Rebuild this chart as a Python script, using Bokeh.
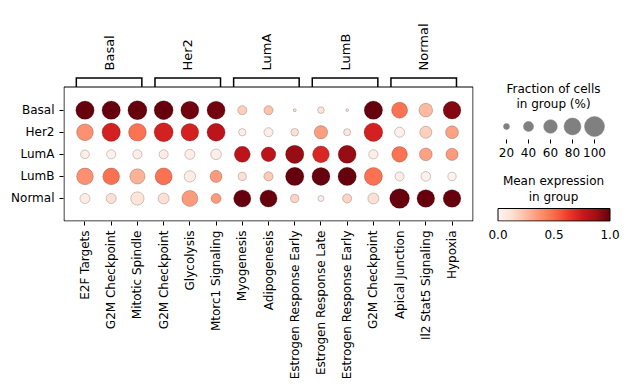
import math
import numpy as np
from bokeh.plotting import figure
from bokeh.layouts import row
from bokeh.models import FixedTicker, LinearColorMapper, ColumnDataSource, Range1d
from bokeh.palettes import Reds256
from bokeh.transform import linear_cmap
from bokeh.core.properties import value
from bokeh.embed import file_html
from bokeh.resources import INLINE

# ---------------------------------------------------------------- data
groups = ["Basal", "Her2", "LumA", "LumB", "Normal"]
pathways = [
    "E2F Targets", "G2M Checkpoint", "Mitotic Spindle",
    "G2M Checkpoint", "Glycolysis", "Mtorc1 Signaling",
    "Myogenesis", "Adipogenesis", "Estrogen Response Early",
    "Estrogen Response Late", "Estrogen Response Early", "G2M Checkpoint",
    "Apical Junction", "Il2 Stat5 Signaling", "Hypoxia",
]
# column ranges of the marker-gene groups shown as brackets on top
group_start = [0, 3, 6, 9, 12]
group_end = [2, 5, 8, 11, 14]

# fraction of cells expressing (0-1), one list per group (rows)
frac_basal = [0.89, 0.89, 0.93, 0.93, 0.87, 0.87, 0.35, 0.35, 0.08, 0.23, 0.07, 0.89, 0.74, 0.60, 0.85]
frac_her2 = [0.79, 0.89, 0.85, 0.93, 0.85, 0.87, 0.26, 0.35, 0.28, 0.58, 0.25, 0.91, 0.40, 0.51, 0.56]
frac_luma = [0.33, 0.35, 0.36, 0.35, 0.40, 0.43, 0.74, 0.66, 0.89, 0.79, 0.87, 0.36, 0.72, 0.55, 0.52]
frac_lumb = [0.79, 0.79, 0.70, 0.81, 0.47, 0.51, 0.30, 0.36, 0.89, 0.87, 0.89, 0.87, 0.35, 0.38, 0.31]
frac_normal = [0.40, 0.40, 0.58, 0.45, 0.74, 0.40, 0.82, 0.82, 0.31, 0.20, 0.35, 0.45, 0.98, 0.85, 0.85]

# scaled mean expression (0-1)
expr_basal = [1.00, 1.00, 1.00, 1.00, 0.98, 0.98, 0.18, 0.22, 0.12, 0.10, 0.08, 1.00, 0.47, 0.25, 0.94]
expr_her2 = [0.38, 0.72, 0.47, 0.72, 0.72, 0.80, 0.04, 0.04, 0.12, 0.34, 0.08, 0.72, 0.03, 0.18, 0.33]
expr_luma = [0.04, 0.02, 0.04, 0.05, 0.04, 0.04, 0.80, 0.80, 0.90, 0.70, 0.90, 0.04, 0.47, 0.33, 0.35]
expr_lumb = [0.38, 0.48, 0.28, 0.48, 0.05, 0.35, 0.12, 0.20, 1.00, 1.00, 1.00, 0.48, 0.04, 0.03, 0.02]
expr_normal = [0.05, 0.12, 0.10, 0.12, 0.35, 0.35, 1.00, 1.00, 0.17, 0.05, 0.17, 0.12, 1.00, 1.00, 1.00]

legend_fracs = [20, 40, 60, 80, 100]
cbar_ticks = [0.0, 0.5, 1.0]

frac_rows = [frac_basal, frac_her2, frac_luma, frac_lumb, frac_normal]
expr_rows = [expr_basal, expr_her2, expr_luma, expr_lumb, expr_normal]

# ---------------------------------------------------------------- style
FONT = value("DejaVu Sans")
FS = "12px"
DOT_MAX = 20.0          # diameter (px) of a dot with fraction 1.0
SIZE_EXP = 0.75         # area grows as fraction ** 1.5
palette = list(reversed(Reds256))


def dot_size(f):
    return DOT_MAX * (f ** SIZE_EXP)


def style_axis(ax, tick_out=4, standoff=5):
    ax.axis_line_color = None
    ax.major_tick_out = tick_out
    ax.major_tick_in = 0
    ax.minor_tick_line_color = None
    ax.major_tick_line_color = "black" if tick_out else None
    ax.major_tick_line_width = 1
    ax.major_label_text_font = "DejaVu Sans"
    ax.major_label_text_font_size = FS
    ax.major_label_text_color = "black"
    ax.major_label_standoff = standoff


n_cols = len(pathways)
n_rows = len(groups)

# box padding around the dot grid (data units)
XPAD = 0.8
YPAD_B, YPAD_T = 1.02, 1.05
box_l, box_r = -XPAD, n_cols - 1 + XPAD
box_b, box_t = -YPAD_B, n_rows - 1 + YPAD_T

W_MAIN, H = 480, 389
FRAME_L, FRAME_R = 63, 473
FRAME_B = 221
px_x = (FRAME_R - FRAME_L - 1) / (box_r - box_l)
px_y = (FRAME_B - 86.5 - 0.5) / (box_t - box_b)
x_range = Range1d(box_l - 0.5 / px_x, box_r + 0.5 / px_x)
y_range = Range1d(box_b - 0.5 / px_y, box_b + (FRAME_B - 0.5) / px_y)

xs, ys, sizes, exprs = [], [], [], []
for gi, (fr, ex) in enumerate(zip(frac_rows, expr_rows)):
    for ci in range(n_cols):
        xs.append(ci)
        ys.append(n_rows - 1 - gi)
        sizes.append(dot_size(fr[ci]))
        exprs.append(ex[ci])
src = ColumnDataSource(dict(x=xs, y=ys, size=sizes, expr=exprs))

p = figure(width=W_MAIN, height=H, x_range=x_range, y_range=y_range,
           output_backend="svg", toolbar_location=None,
           min_border_left=FRAME_L, min_border_right=W_MAIN - FRAME_R,
           min_border_top=0, min_border_bottom=H - FRAME_B)
p.outline_line_color = None
p.grid.visible = False
p.background_fill_color = "white"
p.border_fill_color = "white"

style_axis(p.xaxis[0])
style_axis(p.yaxis[0])
p.xaxis.ticker = FixedTicker(ticks=list(range(n_cols)))
p.xaxis.major_label_overrides = {i: name for i, name in enumerate(pathways)}
p.xaxis.major_label_orientation = math.pi / 2
p.yaxis.ticker = FixedTicker(ticks=list(range(n_rows)))
p.yaxis.major_label_overrides = {n_rows - 1 - i: g for i, g in enumerate(groups)}

# frame box
p.quad(left=[box_l], right=[box_r], bottom=[box_b], top=[box_t],
       fill_color=None, line_color="black", line_width=1)

# group brackets and labels above the box
br_top = box_b + (FRAME_B - 0.5 - 77.5) / px_y
lab_y = box_b + (FRAME_B - 0.5 - 70) / px_y
bx, by, mids = [], [], []
for s, e in zip(group_start, group_end):
    l, r = s - 0.33, e + 0.17
    bx.append([l, l, r, r])
    by.append([box_t, br_top, br_top, box_t])
    mids.append((l + r) / 2)
p.multi_line(xs=bx, ys=by, line_color="black", line_width=1.5, line_join="miter")
p.text(x=mids, y=[lab_y] * len(mids), text=groups, angle=math.pi / 2,
       text_align="left", text_baseline="middle", text_font=FONT,
       text_font_size="13px", text_color="black")

# dots
p.scatter(x="x", y="y", size="size", source=src,
          fill_color=linear_cmap("expr", palette, 0, 1),
          line_color="black", line_alpha=0.4, line_width=0.5)

# ---------------------------------------------------------------- legends
# The legend panel shares the main plot's top/bottom borders, so its
# frame covers screen rows 0..FRAME_B; y data units equal screen pixels.
W_LEG = 628 - W_MAIN
lg = figure(width=W_LEG, height=H, x_range=Range1d(W_MAIN, 628),
            y_range=Range1d(FRAME_B, 0), output_backend="svg",
            toolbar_location=None, min_border=0, min_border_bottom=H - FRAME_B,
            y_axis_type=None)
lg.outline_line_color = None
lg.grid.visible = False
lg.background_fill_color = "white"
lg.border_fill_color = "white"

cx = 553
lg.text(x=[cx, cx], y=[88, 103], text=["Fraction of cells", "in group (%)"],
        text_align="center", text_baseline="middle", text_font=FONT,
        text_font_size=FS, text_color="black")
lx = [506 + 22 * i for i in range(len(legend_fracs))]
lg.scatter(x=lx, y=[126] * len(lx), size=[dot_size(f / 100) for f in legend_fracs],
           fill_color="#808080", line_color="#808080", line_width=0.5)
lg.segment(x0=lx, y0=[139] * len(lx), x1=lx, y1=[143] * len(lx),
           line_color="black", line_width=1)
lg.text(x=lx, y=[152] * len(lx), text=[str(f) for f in legend_fracs],
        text_align="center", text_baseline="middle", text_font=FONT,
        text_font_size=FS, text_color="black")

lg.text(x=[cx, cx], y=[180, 196], text=["Mean expression", "in group"],
        text_align="center", text_baseline="middle", text_font=FONT,
        text_font_size=FS, text_color="black")

# colour bar: gradient image plus an axis carrying its tick labels
cb_l, cb_w, cb_h = 497.5, 112, 13
cb_t = FRAME_B - cb_h
mapper = LinearColorMapper(palette=palette, low=0, high=1)
lg.image(image=[np.linspace(0, 1, 256).reshape(1, 256)], x=cb_l, y=cb_t,
         dw=cb_w, dh=cb_h, color_mapper=mapper)
lg.quad(left=[cb_l], right=[cb_l + cb_w], bottom=[cb_t + cb_h - 0.5], top=[cb_t],
        fill_color=None, line_color="black", line_width=1)
cb_pos = [cb_l + t * cb_w for t in cbar_ticks]
style_axis(lg.xaxis[0], tick_out=0, standoff=8)
lg.xaxis.ticker = FixedTicker(ticks=cb_pos)
lg.xaxis.major_label_overrides = {x: f"{t:.1f}" for x, t in zip(cb_pos, cbar_ticks)}

layout = row(p, lg)
open("out.html", "w").write(file_html(layout, INLINE))
